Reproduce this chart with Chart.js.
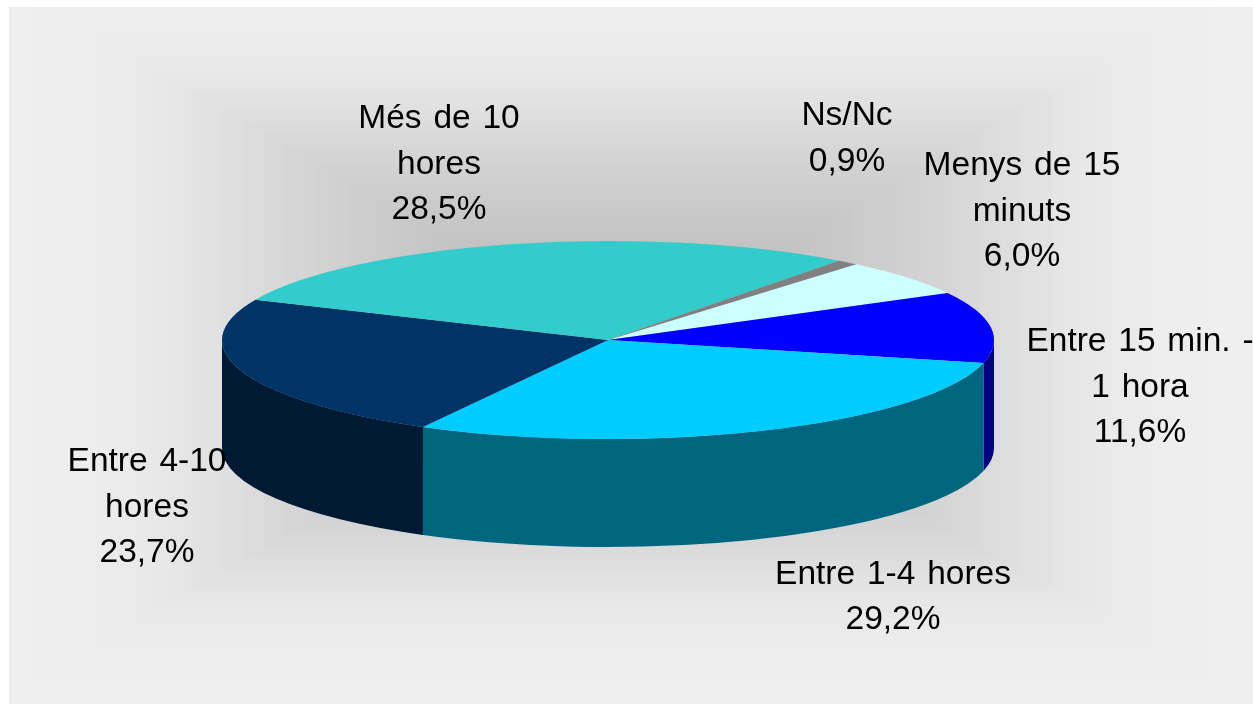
<!DOCTYPE html>
<html>
<head>
<meta charset="utf-8">
<style>html,body{margin:0;padding:0;background:#fff;overflow:hidden}canvas{display:block}</style>
<script src="https://cdn.jsdelivr.net/npm/chart.js@4"></script>
</head>
<body>
<canvas id="c" width="1253" height="704"></canvas>
<script>
const categories = ["Menys de 15 minuts","Entre 15 min. - 1 hora","Entre 1-4 hores","Entre 4-10 hores","Més de 10 hores","Ns/Nc"];
const values = [6.0, 11.6, 29.2, 23.7, 28.5, 0.9];
const topColors = ["#CCFFFF","#0000FF","#00CCFF","#003366","#33CCCC","#808080"];
const wallColors = ["#99BFBF","#000080","#006680","#001A33","#269999","#606060"];
const labelLines = [["Menys de 15","minuts"],["Entre 15 min. -","1 hora"],["Entre 1-4 hores"],["Entre 4-10","hores"],["Més de 10","hores"],["Ns/Nc"]];

const startRotation = 40;
const pie = {cx:608, cy:340, rx:386, ry:99, depth:108};
const labelAnchors = [[1022,166],[1140,342],[893,574.5],[147,462],[439,119],[847,116]];
const lineGap = 45.5;
const bg = {x:9, y:7, cx:622, cy:340, steps:60};
const bgStopT = [0, .35, .53, .65, .75, .88, 1];
const bgStopGrey = [180, 200, 214, 225, 232, 238, 239];

function greyAt(t){
  for(let k=1;k<bgStopT.length;k++){
    if(t<=bgStopT[k]){
      const f=(t-bgStopT[k-1])/(bgStopT[k]-bgStopT[k-1]);
      return Math.round(bgStopGrey[k-1]+(bgStopGrey[k]-bgStopGrey[k-1])*f);
    }
  }
  return bgStopGrey[bgStopGrey.length-1];
}

const backdrop = {
  id:"backdrop",
  beforeDraw(chart){
    const c = chart.ctx, W = chart.width, H = chart.height;
    c.save();
    c.fillStyle = "#fff"; c.fillRect(0,0,W,H);
    c.beginPath(); c.rect(bg.x,bg.y,W-bg.x,H-bg.y); c.clip();
    const hw = Math.max(W-bg.cx, bg.cx-bg.x), hh = Math.max(H-bg.cy, bg.cy-bg.y);
    for(let i=bg.steps;i>0;i--){
      const t=i/bg.steps, v=greyAt(t);
      c.fillStyle=`rgb(${v},${v},${v})`;
      c.fillRect(bg.cx-hw*t,bg.cy-hh*t,2*hw*t,2*hh*t);
    }
    c.restore();
  }
};

const extruded = {
  id:"extruded",
  beforeDatasetDraw(chart){
    const c = chart.ctx, arcs = chart.getDatasetMeta(0).data;
    const R = arcs[0].outerRadius;
    c.save();
    const TAU = Math.PI*2;
    arcs.forEach((a,i)=>{
      for(const shift of [0,-TAU,TAU]){
        const s=Math.max(a.startAngle+shift,0), e=Math.min(a.endAngle+shift,Math.PI);
        if(e<=s) continue;
        c.beginPath();
        c.ellipse(pie.cx,pie.cy,pie.rx,pie.ry,0,s,e);
        c.ellipse(pie.cx,pie.cy+pie.depth,pie.rx,pie.ry,0,e,s,true);
        c.closePath();
        c.fillStyle=wallColors[i];
        c.fill();
      }
    });
    c.restore();
    c.save();
    c.translate(pie.cx,pie.cy); c.scale(pie.rx/R,pie.ry/R); c.translate(-arcs[0].x,-arcs[0].y);
  },
  afterDatasetDraw(chart){
    chart.ctx.restore();
  },
  afterDraw(chart){
    const c = chart.ctx;
    c.save();
    c.fillStyle="#000";
    c.font='33.5px "Liberation Sans", Arial, sans-serif';
    c.wordSpacing="2.5px";
    c.textAlign="center"; c.textBaseline="middle";
    categories.forEach((_,i)=>{
      const [x,y]=labelAnchors[i];
      const lines=[...labelLines[i], values[i].toFixed(1).replace(".",",")+"%"];
      lines.forEach((t,k)=>c.fillText(t,x,y+k*lineGap));
    });
    c.restore();
  }
};

new Chart(document.getElementById("c"),{
  type:"pie",
  data:{labels:categories,datasets:[{data:values,backgroundColor:topColors,borderWidth:0,clip:false}]},
  options:{
    responsive:false,animation:false,rotation:startRotation,
    layout:{padding:100},
    plugins:{legend:{display:false},tooltip:{enabled:false},title:{display:false}},
    events:[]
  },
  plugins:[backdrop,extruded]
});
</script>
</body>
</html>
